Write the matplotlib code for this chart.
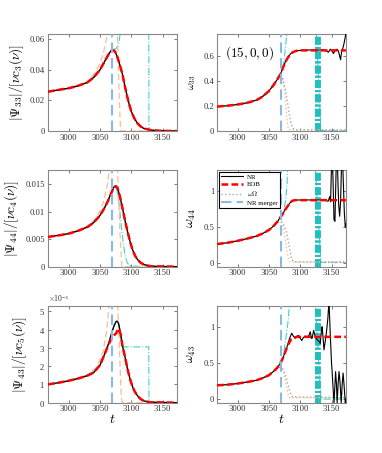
import matplotlib
matplotlib.use('Agg')
import matplotlib.pyplot as plt

plt.rcParams['font.family'] = ['Liberation Serif', 'DejaVu Serif']
plt.rcParams['mathtext.fontset'] = 'cm'

# ---- data ----
t_merger = 3069
band_t = [3124.5, 3126.0, 3127.5, 3129.0, 3130.5, 3132.0]

# (3,3) amplitude
t_a33 = [2967, 2980, 3000, 3015, 3030, 3040, 3050, 3058, 3064, 3068, 3071, 3074, 3078, 3082,
         3086, 3090, 3095, 3100, 3105, 3110, 3115, 3120, 3130, 3140, 3150, 3173]
nr_a33 = [0.0257, 0.0267, 0.0280, 0.0295, 0.0318, 0.0350, 0.0400, 0.0460, 0.0505, 0.0527, 0.0532,
          0.0522, 0.0482, 0.0430, 0.0370, 0.0290, 0.0200, 0.0128, 0.0082, 0.0050, 0.0030, 0.0017,
          0.0007, 0.0003, 0.0001, 0.0]
eob_a33 = [0.0257, 0.0267, 0.0280, 0.0296, 0.0319, 0.0351, 0.0401, 0.0460, 0.0503, 0.0525, 0.0530,
           0.0520, 0.0482, 0.0430, 0.0370, 0.0290, 0.0200, 0.0128, 0.0082, 0.0050, 0.0030, 0.0017,
           0.0007, 0.0003, 0.0001, 0.0]
t_o33 = [2967, 3000, 3030, 3045, 3055, 3062, 3068, 3074, 3078, 3081, 3083, 3100, 3173]
or_a33 = [0.0257, 0.0280, 0.0320, 0.0400, 0.0500, 0.0640, 0.0850, 0.0900, 0.0640, 0.0200, 0.0, 0.0, 0.0]
t_c33 = [2967, 3000, 3030, 3050, 3064, 3071, 3076, 3080, 3083, 3086, 3128, 3128.3, 3173]
cy_a33 = [0.0257, 0.0280, 0.0318, 0.0400, 0.0505, 0.0532, 0.0540, 0.0570, 0.0660, 0.0800, 0.0800, 0.0, 0.0]

# (4,4) amplitude
t_a44 = [2967, 2985, 3000, 3015, 3030, 3040, 3050, 3058, 3064, 3069, 3072, 3075, 3078, 3082,
         3086, 3090, 3094, 3098, 3102, 3106, 3110, 3115, 3120, 3130, 3140, 3173]
nr_a44 = [0.0054, 0.0057, 0.0060, 0.0065, 0.0072, 0.0080, 0.0093, 0.0108, 0.0123, 0.0137, 0.0144,
          0.0147, 0.0143, 0.0127, 0.0106, 0.0084, 0.0064, 0.0046, 0.0031, 0.0020, 0.0013, 0.0007,
          0.0004, 0.0001, 0.00005, 0.0]
eob_a44 = [0.0054, 0.0057, 0.0060, 0.0065, 0.0072, 0.0080, 0.0093, 0.0108, 0.0122, 0.0136, 0.0143,
           0.0146, 0.0143, 0.0127, 0.0106, 0.0084, 0.0064, 0.0046, 0.0031, 0.0020, 0.0013, 0.0007,
           0.0004, 0.0001, 0.00005, 0.0]
t_o44 = [2967, 3000, 3030, 3045, 3055, 3062, 3066, 3072, 3078, 3082, 3085, 3173]
or_a44 = [0.0054, 0.0060, 0.0073, 0.0090, 0.0115, 0.0150, 0.0185, 0.0220, 0.0180, 0.0060, 0.0, 0.0]
t_c44 = [2967, 3000, 3030, 3050, 3064, 3069, 3072, 3075, 3078, 3081, 3084, 3087, 3090, 3094, 3100, 3173]
cy_a44 = [0.0054, 0.0060, 0.0072, 0.0093, 0.0123, 0.0137, 0.0144, 0.0147, 0.0135, 0.0110, 0.0075,
          0.0045, 0.0020, 0.0006, 0.0001, 0.0]

# (4,3) amplitude
t_a43 = [2967, 2985, 3000, 3015, 3030, 3040, 3050, 3058, 3064, 3069, 3073, 3076, 3078, 3080,
         3083, 3086, 3090, 3094, 3098, 3102, 3106, 3110, 3115, 3120, 3130, 3173]
nr_a43 = [1.0, 1.1, 1.2, 1.32, 1.48, 1.65, 2.05, 2.7, 3.25, 3.85, 4.25, 4.45, 4.45, 4.3, 3.75, 3.1,
          2.5, 1.85, 1.3, 0.88, 0.58, 0.38, 0.2, 0.1, 0.03, 0.0]
eob_a43 = [1.0, 1.1, 1.2, 1.32, 1.48, 1.65, 2.05, 2.7, 3.2, 3.55, 3.7, 3.8, 3.95, 4.05, 3.75, 3.1,
           2.5, 1.85, 1.3, 0.88, 0.58, 0.38, 0.2, 0.1, 0.03, 0.0]
t_o43 = [2967, 3000, 3030, 3045, 3055, 3061, 3065, 3072, 3078, 3081, 3084, 3086, 3173]
or_a43 = [1.0, 1.2, 1.5, 1.95, 2.8, 4.0, 5.5, 6.5, 5.5, 3.0, 0.3, 0.0, 0.0]
t_c43 = [2967, 3000, 3030, 3050, 3064, 3069, 3073, 3078, 3080, 3083, 3085, 3086, 3128, 3128.3, 3173]
cy_a43 = [1.0, 1.2, 1.48, 2.05, 3.25, 3.85, 4.25, 4.45, 4.3, 3.75, 3.3, 3.05, 3.05, 0.0, 0.0]

# (3,3) frequency
t_w33 = [2967, 2985, 3000, 3015, 3030, 3040, 3050, 3057, 3063, 3068, 3072, 3076, 3080, 3084, 3088,
         3092, 3096, 3100, 3110, 3120, 3130, 3138, 3142, 3145, 3148, 3151, 3153, 3156, 3159, 3161,
         3163, 3164.5, 3166, 3168, 3170, 3173]
nr_w33 = [0.195, 0.203, 0.212, 0.225, 0.247, 0.275, 0.32, 0.365, 0.41, 0.45, 0.50, 0.55, 0.585,
          0.615, 0.63, 0.638, 0.642, 0.645, 0.648, 0.648, 0.648, 0.648, 0.64, 0.63, 0.655, 0.64,
          0.62, 0.645, 0.655, 0.64, 0.60, 0.57, 0.63, 0.66, 0.70, 0.78]
t_e33 = [2967, 2985, 3000, 3015, 3030, 3040, 3050, 3057, 3063, 3068, 3072, 3076, 3080, 3084, 3088,
         3092, 3096, 3173]
eob_w33 = [0.195, 0.203, 0.212, 0.225, 0.247, 0.275, 0.32, 0.365, 0.41, 0.45, 0.50, 0.55, 0.585,
           0.615, 0.63, 0.638, 0.645, 0.645]
t_x33 = [2967, 3000, 3030, 3050, 3063, 3069, 3071, 3074, 3076, 3078, 3080, 3082, 3173]
or_w33 = [0.195, 0.212, 0.247, 0.32, 0.41, 0.435, 0.43, 0.36, 0.27, 0.13, 0.04, 0.01, 0.008]
t_g33 = [2967, 3000, 3030, 3050, 3063, 3069, 3072, 3076, 3079, 3082, 3085, 3088, 3091, 3173]
om_w33 = [0.195, 0.212, 0.247, 0.32, 0.41, 0.44, 0.42, 0.34, 0.25, 0.15, 0.07, 0.025, 0.01, 0.008]
t_y33 = [2967, 3000, 3030, 3050, 3063, 3070, 3073, 3075, 3077, 3079, 3081, 3124, 3133, 3173]
cy_w33 = [0.195, 0.212, 0.247, 0.32, 0.41, 0.47, 0.52, 0.60, 0.70, 0.80, 1.0, 1.0, 0.003, 0.003]

# (4,4) frequency
t_w44 = [2967, 2985, 3000, 3015, 3030, 3040, 3050, 3057, 3063, 3068, 3072, 3076, 3080, 3084, 3088,
         3092, 3100, 3120, 3135, 3140, 3143, 3145, 3147, 3148.5, 3150, 3152, 3154, 3155.5, 3157.5,
         3159.5, 3161.5, 3163, 3164.5, 3166, 3168, 3170.5, 3172, 3173]
nr_w44 = [0.265, 0.285, 0.31, 0.34, 0.375, 0.41, 0.46, 0.51, 0.57, 0.63, 0.68, 0.74, 0.79, 0.84,
          0.865, 0.872, 0.875, 0.875, 0.875, 0.88, 0.86, 0.86, 0.92, 0.85, 1.35, 1.3, 0.6, 0.58,
          1.35, 1.35, 0.8, 0.65, 0.85, 1.35, 1.35, 0.7, 0.5, 0.55]
t_e44 = [2967, 2985, 3000, 3015, 3030, 3040, 3050, 3057, 3063, 3068, 3072, 3076, 3080, 3084, 3088,
         3092, 3173]
eob_w44 = [0.265, 0.285, 0.31, 0.34, 0.375, 0.41, 0.46, 0.51, 0.57, 0.63, 0.68, 0.74, 0.79, 0.84,
           0.865, 0.872, 0.872]
t_x44 = [2967, 3000, 3030, 3050, 3063, 3069, 3072, 3075, 3078, 3081, 3084, 3173]
or_w44 = [0.265, 0.31, 0.375, 0.46, 0.57, 0.58, 0.52, 0.38, 0.21, 0.07, 0.015, 0.014]
t_g44 = [2967, 3000, 3030, 3050, 3063, 3069, 3073, 3078, 3082, 3086, 3090, 3173]
om_w44 = [0.265, 0.31, 0.375, 0.46, 0.57, 0.58, 0.55, 0.44, 0.25, 0.06, 0.02, 0.02]
t_y44 = [2967, 3000, 3030, 3050, 3063, 3070, 3072, 3074, 3077, 3079, 3080, 3124, 3133, 3173]
cy_w44 = [0.265, 0.31, 0.375, 0.46, 0.57, 0.65, 0.68, 0.72, 0.90, 1.10, 1.35, 1.35, 0.01, 0.01]

# (4,3) frequency
t_w43 = [2967, 2985, 3000, 3015, 3030, 3040, 3050, 3057, 3063, 3068, 3072, 3076, 3080, 3083,
         3086.5, 3089, 3092, 3095, 3097, 3100, 3102.5, 3105, 3108, 3111, 3114, 3116, 3118, 3119,
         3121.5, 3124, 3127, 3130, 3132, 3134, 3135, 3136.5, 3138, 3140, 3142, 3144, 3146, 3148,
         3150, 3151, 3152.5, 3154, 3155.5, 3156.5, 3158, 3159, 3160.5, 3162, 3163.5, 3165.5, 3167,
         3168.5, 3170, 3172, 3173]
nr_w43 = [0.19, 0.2, 0.215, 0.235, 0.26, 0.29, 0.33, 0.38, 0.43, 0.49, 0.56, 0.65, 0.75, 0.84,
          0.91, 0.87, 0.84, 0.87, 0.88, 0.84, 0.81, 0.85, 0.87, 0.86, 0.88, 0.93, 0.84, 0.84, 0.95,
          0.86, 0.82, 0.80, 0.77, 0.95, 1.0, 0.85, 0.68, 0.80, 0.93, 1.1, 1.35, 0.9, 0.5, 0.38,
          0.15, -0.05, 0.2, 0.38, 0.2, -0.05, 0.2, 0.38, 0.25, -0.05, 0.2, 0.36, 0.2, -0.05, 0.0]
t_e43 = [2967, 2985, 3000, 3015, 3030, 3040, 3050, 3057, 3063, 3068, 3072, 3076, 3080, 3083,
         3086, 3090, 3095, 3173]
eob_w43 = [0.19, 0.2, 0.215, 0.235, 0.26, 0.29, 0.33, 0.38, 0.43, 0.49, 0.56, 0.65, 0.74, 0.79,
           0.83, 0.85, 0.86, 0.86]
t_x43 = [2967, 3000, 3030, 3050, 3063, 3069, 3072, 3075, 3078, 3081, 3083, 3173]
or_w43 = [0.19, 0.215, 0.26, 0.33, 0.43, 0.44, 0.40, 0.30, 0.17, 0.06, 0.02, 0.02]
t_g43 = [2967, 3000, 3030, 3050, 3063, 3069, 3073, 3077, 3081, 3085, 3088, 3173]
om_w43 = [0.19, 0.215, 0.26, 0.33, 0.43, 0.44, 0.41, 0.32, 0.18, 0.06, 0.03, 0.02]
t_y43 = [2967, 3000, 3030, 3050, 3063, 3070, 3072, 3075, 3078, 3081, 3083, 3124, 3133, 3173]
cy_w43 = [0.19, 0.215, 0.26, 0.33, 0.43, 0.52, 0.56, 0.72, 0.90, 1.10, 1.35, 1.35, 0.0, 0.0]

# ---- styles ----
C_NR = 'k'
C_EOB = '#ff0000'
C_OR = '#f8bf94'
C_CY = '#3fd0d0'
C_BAND = '#22bfbf'
C_OM = '#a8a8a8'
C_MERGE = '#86b9e4'
SPINE = '#888888'

fig = plt.figure(figsize=(3.82, 4.53), dpi=100)

left_x, right_x, w = 0.1257, 0.568, 0.3375
rows_b = [0.7108, 0.4113, 0.111]
h = 0.2141


def style_axis(ax):
    for s in ax.spines.values():
        s.set_color(SPINE)
        s.set_linewidth(0.8)
    ax.tick_params(direction='in', top=True, right=True, length=2, width=0.5,
                   colors='#444444', labelsize=6.2, labelcolor='#333333', pad=2)
    ax.set_xlim(2967, 3173)
    ax.set_xticks([3000, 3050, 3100, 3150])


def amp_panel(ax, t_nr, nr, eob, t_or, orr, t_cy, cy):
    ax.plot(t_cy, cy, color=C_CY, lw=0.8, ls='-.', zorder=1)
    ax.plot(t_or, orr, color=C_OR, lw=0.9, dashes=(5, 2.5), zorder=2)
    ax.plot(t_nr, nr, color=C_NR, lw=1.0, zorder=3)
    ax.plot(t_nr, eob, color=C_EOB, lw=1.8, dashes=(2.7, 1.3), zorder=4)
    ax.axvline(t_merger, color=C_MERGE, lw=1.5, dashes=(5, 2.5), zorder=5)
    style_axis(ax)


def freq_panel(ax, t_nr, nr, t_e, eob, t_or, orr, t_om, om, t_cy, cy):
    ax.plot(t_cy, cy, color=C_CY, lw=0.8, ls='-.', zorder=1)
    for bt in band_t:
        ax.axvline(bt, color=C_BAND, lw=1.4, dashes=(4, 1.2, 1, 1.2), zorder=1)
    ax.plot(t_or, orr, color=C_OR, lw=1.0, ls=':', zorder=2)
    ax.plot(t_om, om, color=C_OM, lw=1.0, ls=':', label=r'$\omega\Omega$', zorder=2)
    ax.plot(t_nr, nr, color=C_NR, lw=0.8, label='NR', zorder=3)
    ax.plot(t_e, eob, color=C_EOB, lw=1.8, dashes=(2.7, 1.3), label='EOB', zorder=4)
    ax.axvline(t_merger, color=C_MERGE, lw=1.5, dashes=(5, 2.5), label='NR merger', zorder=5)
    style_axis(ax)


# left column: amplitudes
ax1 = fig.add_axes([left_x, rows_b[0], w, h])
amp_panel(ax1, t_a33, nr_a33, eob_a33, t_o33, or_a33, t_c33, cy_a33)
ax1.set_ylim(0, 0.0635)
ax1.set_yticks([0, 0.02, 0.04, 0.06])
ax1.set_yticklabels(['0', '0.02', '0.04', '0.06'])
ax1.set_ylabel(r'$|\Psi_{33}|/[\nu c_3(\nu)]$', fontsize=9.5, labelpad=3)

ax3 = fig.add_axes([left_x, rows_b[1], w, h])
amp_panel(ax3, t_a44, nr_a44, eob_a44, t_o44, or_a44, t_c44, cy_a44)
ax3.set_ylim(0, 0.0176)
ax3.set_yticks([0, 0.005, 0.01, 0.015])
ax3.set_yticklabels(['0', '0.005', '0.01', '0.015'])
ax3.set_ylabel(r'$|\Psi_{44}|/[\nu c_4(\nu)]$', fontsize=9.5, labelpad=3)

ax5 = fig.add_axes([left_x, rows_b[2], w, h])
amp_panel(ax5, t_a43, [v * 1e-3 for v in nr_a43], [v * 1e-3 for v in eob_a43],
          t_o43, [v * 1e-3 for v in or_a43], t_c43, [v * 1e-3 for v in cy_a43])
ax5.set_ylim(0, 5.3e-3)
ax5.set_yticks([0, 1e-3, 2e-3, 3e-3, 4e-3, 5e-3])
ax5.ticklabel_format(axis='y', style='sci', scilimits=(0, 0), useMathText=True)
ax5.yaxis.get_offset_text().set_fontsize(5.5)
ax5.set_ylabel(r'$|\Psi_{43}|/[\nu c_5(\nu)]$', fontsize=9.5, labelpad=7)
ax5.set_xlabel(r'$t$', fontsize=10, labelpad=0)

# right column: frequencies
ax2 = fig.add_axes([right_x, rows_b[0], w, h])
freq_panel(ax2, t_w33, nr_w33, t_e33, eob_w33, t_x33, or_w33, t_g33, om_w33, t_y33, cy_w33)
ax2.set_ylim(0, 0.776)
ax2.set_yticks([0, 0.2, 0.4, 0.6])
ax2.set_yticklabels(['0', '0.2', '0.4', '0.6'])
ax2.set_ylabel(r'$\omega_{33}$', fontsize=7.5, labelpad=4)
ax2.text(0.06, 0.80, r'$(15,0,0)$', transform=ax2.transAxes, fontsize=9.5, va='center')

ax4 = fig.add_axes([right_x, rows_b[1], w, h])
freq_panel(ax4, t_w44, nr_w44, t_e44, eob_w44, t_x44, or_w44, t_g44, om_w44, t_y44, cy_w44)
ax4.set_ylim(-0.047, 1.293)
ax4.set_yticks([0, 0.5, 1])
ax4.set_yticklabels(['0', '0.5', '1'])
ax4.set_ylabel(r'$\omega_{44}$', fontsize=10, labelpad=4)
handles, labels = ax4.get_legend_handles_labels()
order = [labels.index(k) for k in ['NR', 'EOB', r'$\omega\Omega$', 'NR merger']]
leg = ax4.legend([handles[i] for i in order], [labels[i] for i in order], loc='upper left',
                 fontsize=5, frameon=True, fancybox=False, framealpha=1, edgecolor='k',
                 handlelength=3.2, borderaxespad=0.3, labelspacing=0.25, borderpad=0.3,
                 handletextpad=0.5)
leg.get_frame().set_linewidth(0.8)

ax6 = fig.add_axes([right_x, rows_b[2], w, h])
freq_panel(ax6, t_w43, nr_w43, t_e43, eob_w43, t_x43, or_w43, t_g43, om_w43, t_y43, cy_w43)
ax6.set_ylim(-0.05, 1.29)
ax6.set_yticks([0, 0.5, 1])
ax6.set_yticklabels(['0', '0.5', '1'])
ax6.set_ylabel(r'$\omega_{43}$', fontsize=9, labelpad=4)
ax6.set_xlabel(r'$t$', fontsize=10, labelpad=0)

fig.savefig('out.png', dpi=100)
